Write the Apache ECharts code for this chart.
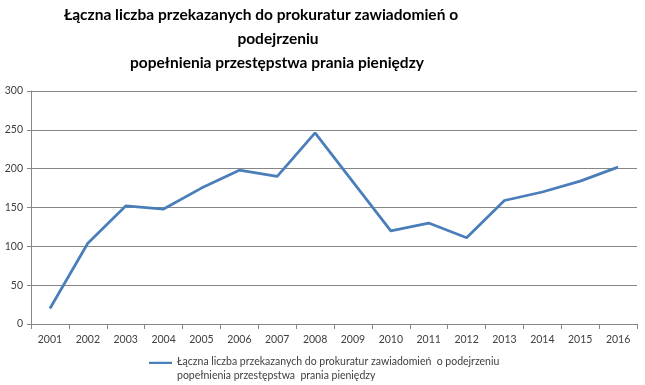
<!DOCTYPE html>
<html>
<head>
<meta charset="utf-8">
<script src="https://cdn.jsdelivr.net/npm/echarts@6/dist/echarts.min.js"></script>
<style>html,body{margin:0;padding:0;background:#fff}#c{width:645px;height:385px}</style>
</head>
<body>
<div id="c"></div>
<script>
var years = ['2001','2002','2003','2004','2005','2006','2007','2008','2009','2010','2011','2012','2013','2014','2015','2016'];
var values = [20, 104, 152, 148, 175, 198, 190, 246, 183, 120, 130, 111, 159, 170, 184, 202];
var yTicks = [0, 50, 100, 150, 200, 250, 300];
var titleLines = ['Łączna liczba przekazanych do prokuratur zawiadomień o', 'podejrzeniu', 'popełnienia przestępstwa prania pieniędzy'];
var seriesName = 'Łączna liczba przekazanych do prokuratur zawiadomień  o podejrzeniu\npopełnienia przestępstwa  prania pieniędzy';

var titleCenters = [[261, 15], [278, 39], [277, 63]];
var chart = echarts.init(document.getElementById('c'));
chart.setOption({
  animation: false,
  graphic: titleLines.map(function (t, i) {
    return {
      type: 'text', x: titleCenters[i][0], y: titleCenters[i][1], silent: true,
      style: {text: t, fontFamily: 'Lato', fontWeight: 'bold', fontSize: 15.5, fill: '#000',
        textAlign: 'center', textVerticalAlign: 'middle'}
    };
  }),
  grid: {left: 31, right: 8, top: 91, bottom: 61, containLabel: false},
  legend: {
    left: 149, top: 355, padding: 0,
    itemWidth: 23, itemHeight: 28, itemGap: 0,
    icon: 'path://M0,0 L0.01,0 L0.01,0.01 Z M0,6 L25,6 L25,8.6 L0,8.6 Z M0,28 L0.01,28 L0.01,28.01 Z',
    textStyle: {fontFamily: 'Lato', fontSize: 10.5, color: '#404040', lineHeight: 14},
    data: [seriesName]
  },
  xAxis: {
    type: 'category', data: years, boundaryGap: true,
    axisLine: {lineStyle: {color: '#868686', width: 1}},
    axisTick: {show: true, length: 5, lineStyle: {color: '#868686'}, interval: 0},
    axisLabel: {fontFamily: 'Lato', fontSize: 10.5, color: '#404040', margin: 10, interval: 0}
  },
  yAxis: {
    type: 'value', min: 0, max: 300, interval: 50,
    axisLine: {show: true, lineStyle: {color: '#868686', width: 1}},
    axisTick: {show: true, length: 4, lineStyle: {color: '#868686'}},
    splitLine: {lineStyle: {color: '#868686', width: 1}},
    axisLabel: {fontFamily: 'Lato', fontSize: 10.5, color: '#404040', margin: 8,
      formatter: function (v) { return yTicks.indexOf(v) >= 0 ? String(v) : ''; }}
  },
  series: [{
    name: seriesName, type: 'line', data: values,
    symbol: 'none', smooth: false,
    lineStyle: {color: '#4a7ebb', width: 2.75},
    itemStyle: {color: '#4a7ebb'}
  }]
});
</script>
</body>
</html>
